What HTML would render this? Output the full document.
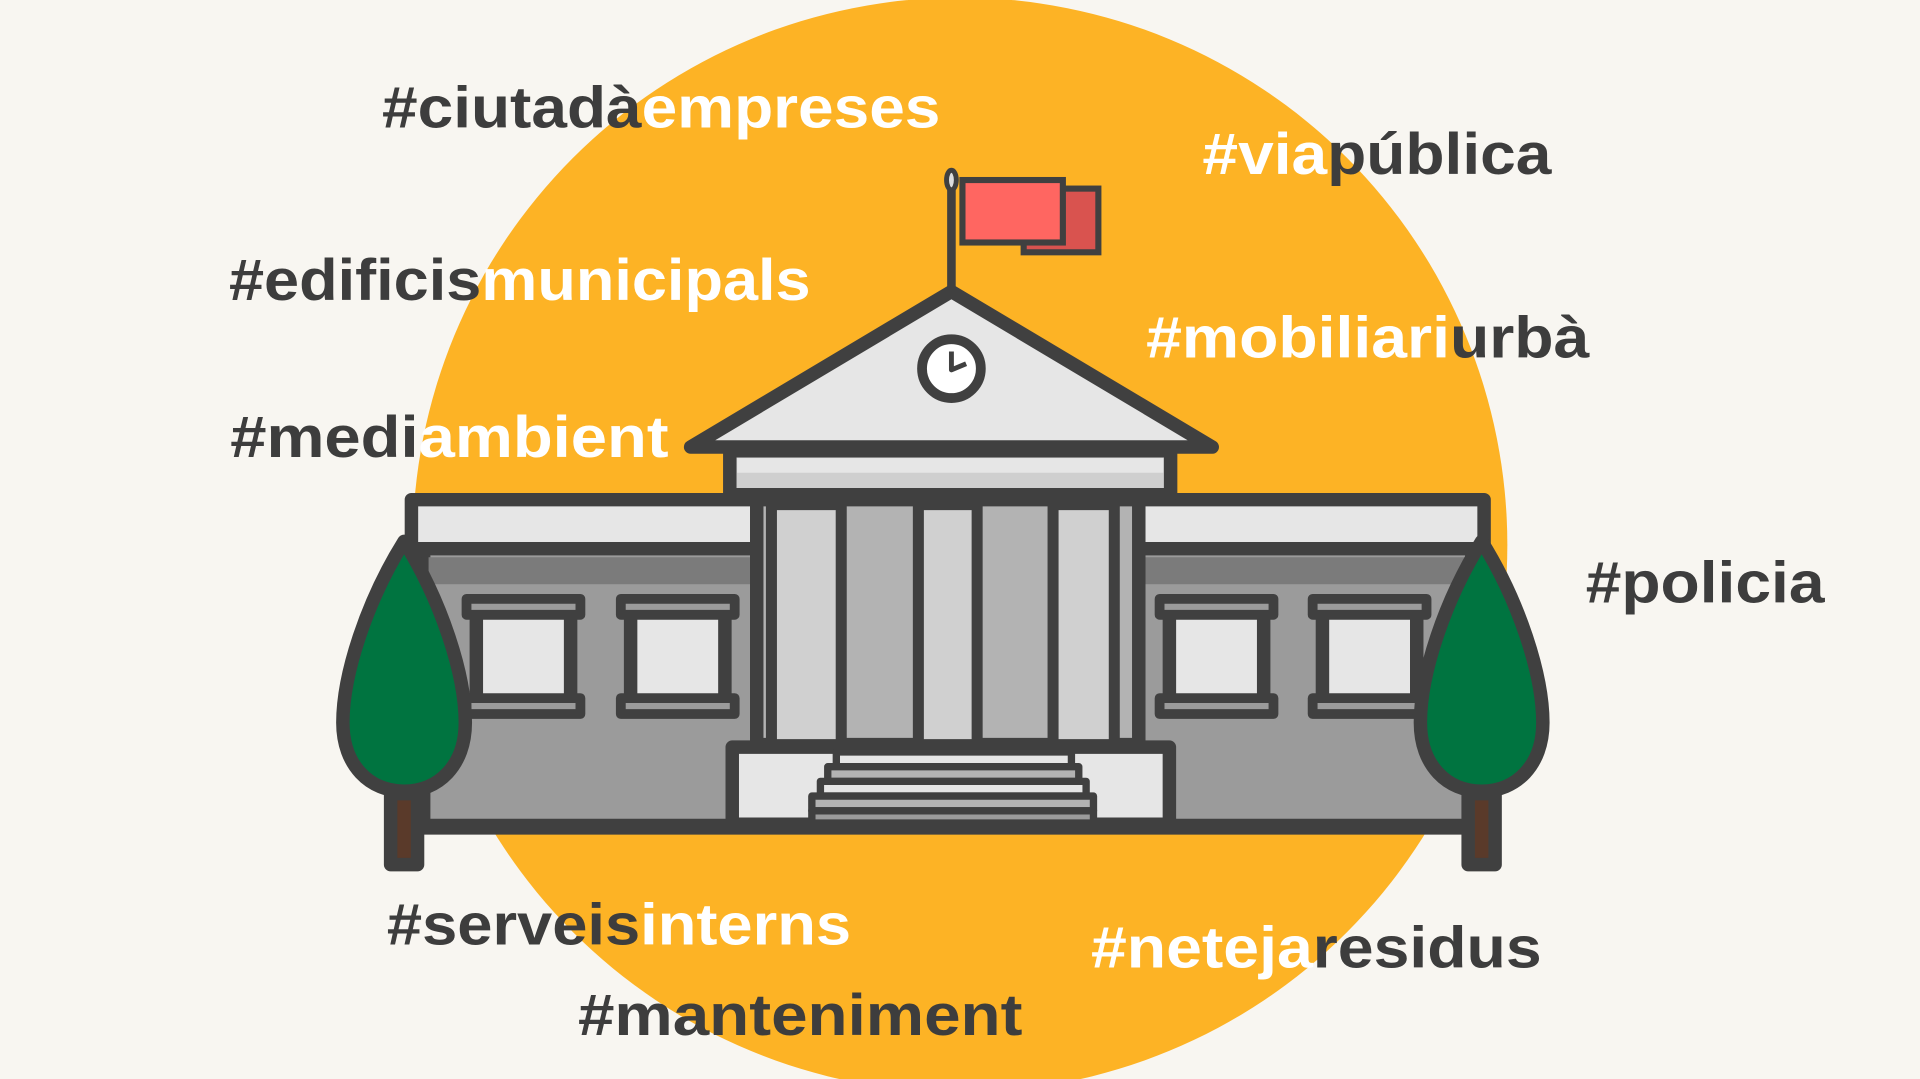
<!DOCTYPE html>
<html><head><meta charset="utf-8"><style>
html,body{margin:0;padding:0;background:#f8f6f1;width:1920px;height:1079px;overflow:hidden}
svg{display:block}
text{font-family:"Liberation Sans",sans-serif;font-weight:bold;font-size:48px}
.d{fill:#3d3d3d}.w{fill:#ffffff}
</style></head><body>
<svg width="1920" height="1079" viewBox="0 0 1568 881" preserveAspectRatio="none" xmlns="http://www.w3.org/2000/svg">
<rect width="1568" height="881" fill="#f8f6f1"/>
<circle cx="784" cy="445" r="447" fill="#fdb325"/>

<g stroke="#404040" stroke-width="5">
<line x1="777" y1="148" x2="777" y2="236" stroke-width="7"/>
<ellipse cx="777" cy="147" rx="4" ry="8" fill="#ddd" stroke-width="4"/>
<rect x="836" y="154" width="61" height="52" fill="#d9534f"/>
<rect x="786" y="147" width="82" height="51" fill="#ff6661"/>
</g>

<g stroke="#404040" stroke-width="11" stroke-linejoin="round">
<rect x="336" y="408" width="876" height="40" fill="#e6e6e6"/>
<rect x="346" y="448" width="856" height="226" fill="#9b9b9b"/>
<rect x="350" y="455" width="848" height="22" fill="#7b7b7b" stroke="none"/>
<g fill="#e6e6e6">
<rect x="389" y="500" width="77" height="72"/><rect x="515" y="500" width="77" height="72"/>
<rect x="955" y="500" width="77" height="72"/><rect x="1080" y="500" width="77" height="72"/>
</g>
<g fill="#9b9b9b" stroke-width="8">
<rect x="381" y="489" width="93" height="13"/><rect x="381" y="570" width="93" height="13"/>
<rect x="507" y="489" width="93" height="13"/><rect x="507" y="570" width="93" height="13"/>
<rect x="947" y="489" width="93" height="13"/><rect x="947" y="570" width="93" height="13"/>
<rect x="1072" y="489" width="93" height="13"/><rect x="1072" y="570" width="93" height="13"/>
</g>
<rect x="618" y="408" width="312" height="200" fill="#b3b3b3"/>
<g fill="#d0d0d0" stroke-width="9">
<rect x="630" y="412" width="57" height="196"/><rect x="750" y="412" width="48" height="196"/><rect x="860" y="412" width="50" height="196"/>
</g>
<rect x="596" y="368" width="360" height="36" fill="#cfcfcf"/>
<rect x="602" y="374" width="348" height="12" fill="#e6e6e6" stroke="none"/>
<polygon points="564,365 777,238 990,365" fill="#e6e6e6"/>
<circle cx="777" cy="301" r="24" fill="#fff" stroke-width="8"/>
<polyline points="777,287 777,302 789,297" fill="none" stroke-width="4"/>
<rect x="598" y="610" width="357" height="63" fill="#e6e6e6"/>
<g fill="#b3b3b3" stroke-width="6">
<rect x="683" y="614" width="192" height="12" fill="#e6e6e6"/>
<rect x="676" y="626" width="205" height="12"/>
<rect x="670" y="638" width="217" height="12" fill="#e6e6e6"/>
<rect x="663" y="650" width="230" height="12"/>
<rect x="663" y="662" width="230" height="10" fill="#9b9b9b"/>
</g>
<line x1="330" y1="677" x2="1210" y2="677" stroke-width="9"/>
</g>

<g stroke="#404040" stroke-width="11" stroke-linejoin="round">
<rect x="319" y="648" width="22" height="58" fill="#5a3a2a"/>
<path d="M330,442 C300,490 280,550 280,590 C280,625 302,646 330,646 C358,646 380,625 380,590 C380,550 360,490 330,442 Z" fill="#007440"/>
</g>
<g stroke="#404040" stroke-width="11" stroke-linejoin="round">
<rect x="1199" y="648" width="22" height="58" fill="#5a3a2a"/>
<path d="M1210,442 C1180,490 1160,550 1160,590 C1160,625 1182,646 1210,646 C1238,646 1260,625 1260,590 C1260,550 1240,490 1210,442 Z" fill="#007440"/>
</g>

<text x="312" y="104" textLength="456" lengthAdjust="spacingAndGlyphs"><tspan class="d">#ciutadà</tspan><tspan class="w">empreses</tspan></text>
<text x="982" y="142" textLength="285" lengthAdjust="spacingAndGlyphs"><tspan class="w">#via</tspan><tspan class="d">pública</tspan></text>
<text x="187" y="245" textLength="475" lengthAdjust="spacingAndGlyphs"><tspan class="d">#edificis</tspan><tspan class="w">municipals</tspan></text>
<text x="936" y="292" textLength="362" lengthAdjust="spacingAndGlyphs"><tspan class="w">#mobiliari</tspan><tspan class="d">urbà</tspan></text>
<text x="188" y="373" textLength="358" lengthAdjust="spacingAndGlyphs"><tspan class="d">#medi</tspan><tspan class="w">ambient</tspan></text>
<text x="1295" y="492" textLength="195" lengthAdjust="spacingAndGlyphs"><tspan class="d">#policia</tspan></text>
<text x="316" y="771" textLength="379" lengthAdjust="spacingAndGlyphs"><tspan class="d">#serveis</tspan><tspan class="w">interns</tspan></text>
<text x="891" y="790" textLength="368" lengthAdjust="spacingAndGlyphs"><tspan class="w">#neteja</tspan><tspan class="d">residus</tspan></text>
<text x="472" y="845" textLength="363" lengthAdjust="spacingAndGlyphs"><tspan class="d">#manteniment</tspan></text>
</svg>
</body></html>
